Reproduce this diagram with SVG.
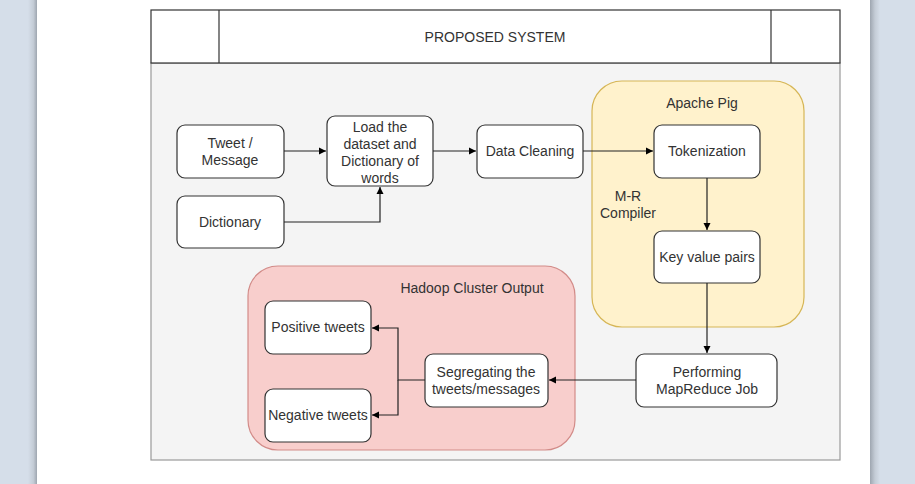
<svg xmlns="http://www.w3.org/2000/svg" width="915" height="484" viewBox="0 0 915 484">
<defs>
<linearGradient id="lsh" x1="0" x2="1" y1="0" y2="0"><stop offset="0" stop-color="#d5dee9"/><stop offset="0.6" stop-color="#c4ccd6"/><stop offset="1" stop-color="#9ea6b0"/></linearGradient>
<linearGradient id="rsh" x1="0" x2="1" y1="0" y2="0"><stop offset="0" stop-color="#9ea6b0"/><stop offset="0.5" stop-color="#c4ccd6"/><stop offset="1" stop-color="#d5dee9"/></linearGradient>
<marker id="arr" markerWidth="8" markerHeight="8" refX="7" refY="4" orient="auto" markerUnits="userSpaceOnUse"><path d="M0,0.5 L7,4 L0,7.5 Z" fill="#000"/></marker>
</defs>
<style>
.node rect{fill:#fff;stroke:#333;stroke-width:1.2}
.t{font-family:"Liberation Sans",Arial,sans-serif;font-size:14px;fill:#333;text-anchor:middle}
.conn path{fill:none;stroke:#222;stroke-width:1.2}
</style>
<rect x="0" y="0" width="915" height="484" fill="#fff"/>
<rect x="0" y="0" width="28" height="484" fill="#d5dee9"/>
<rect x="28" y="0" width="9" height="484" fill="url(#lsh)"/>
<rect x="870" y="0" width="10" height="484" fill="url(#rsh)"/>
<rect x="880" y="0" width="35" height="484" fill="#d5dee9"/>

<g id="frame">
<rect x="151" y="63" width="689" height="397" fill="#f4f4f4" stroke="#999" stroke-width="1.2"/>
<rect x="151" y="10" width="689" height="53" fill="#fff" stroke="#333" stroke-width="1.2"/>
<line x1="219" y1="10" x2="219" y2="63" stroke="#333" stroke-width="1.2"/>
<line x1="771" y1="10" x2="771" y2="63" stroke="#333" stroke-width="1.2"/>
<text class="t" x="495" y="42">PROPOSED SYSTEM</text>
</g>

<g id="apache-pig">
<rect x="592" y="81" width="212" height="246" rx="30" fill="#fff2cc" stroke="#d6b656" stroke-width="1.2"/>
<text class="t" x="702" y="108">Apache Pig</text>
<text class="t" x="628" y="201">M-R</text>
<text class="t" x="628" y="218">Compiler</text>
</g>

<g id="hadoop">
<rect x="248" y="266" width="327" height="184" rx="30" fill="#f8cecc" stroke="#d28b88" stroke-width="1.2"/>
<text class="t" x="472" y="293">Hadoop Cluster Output</text>
</g>

<g class="node" id="tweet"><rect x="177" y="125" width="107" height="53" rx="8"/><text class="t" x="230" y="148">Tweet /</text><text class="t" x="230" y="165">Message</text></g>
<g class="node" id="dictionary"><rect x="177" y="196" width="107" height="52" rx="8"/><text class="t" x="230" y="227">Dictionary</text></g>
<g class="node" id="load"><rect x="327" y="116" width="106" height="70" rx="8"/><text class="t" x="380" y="132">Load the</text><text class="t" x="380" y="149">dataset and</text><text class="t" x="380" y="166">Dictionary of</text><text class="t" x="380" y="183">words</text></g>
<g class="node" id="cleaning"><rect x="477" y="125" width="106" height="53" rx="8"/><text class="t" x="530" y="156">Data Cleaning</text></g>
<g class="node" id="tokenization"><rect x="654" y="125" width="106" height="53" rx="8"/><text class="t" x="707" y="156">Tokenization</text></g>
<g class="node" id="keyvalue"><rect x="654" y="231" width="106" height="52" rx="8"/><text class="t" x="707" y="262">Key value pairs</text></g>
<g class="node" id="mapreduce"><rect x="636" y="354" width="141" height="53" rx="8"/><text class="t" x="707" y="377">Performing</text><text class="t" x="707" y="394">MapReduce Job</text></g>
<g class="node" id="segregating"><rect x="425" y="354" width="123" height="53" rx="8"/><text class="t" x="486" y="377">Segregating the</text><text class="t" x="486" y="394">tweets/messages</text></g>
<g class="node" id="positive"><rect x="265" y="301" width="106" height="53" rx="8"/><text class="t" x="318" y="332">Positive tweets</text></g>
<g class="node" id="negative"><rect x="265" y="389" width="106" height="53" rx="8"/><text class="t" x="318" y="420">Negative tweets</text></g>

<g class="conn" id="connectors">
<path d="M284,151 L326,151" marker-end="url(#arr)"/>
<path d="M284,222 L380,222 L380,187" marker-end="url(#arr)"/>
<path d="M433,151 L476,151" marker-end="url(#arr)"/>
<path d="M583,151 L653,151" marker-end="url(#arr)"/>
<path d="M707,178 L707,230" marker-end="url(#arr)"/>
<path d="M707,283 L707,353" marker-end="url(#arr)"/>
<path d="M636,380 L549,380" marker-end="url(#arr)"/>
<path d="M425,380 L398,380 L398,328 L372,328" marker-end="url(#arr)"/>
<path d="M398,380 L398,415 L372,415" marker-end="url(#arr)"/>
</g>
</svg>
